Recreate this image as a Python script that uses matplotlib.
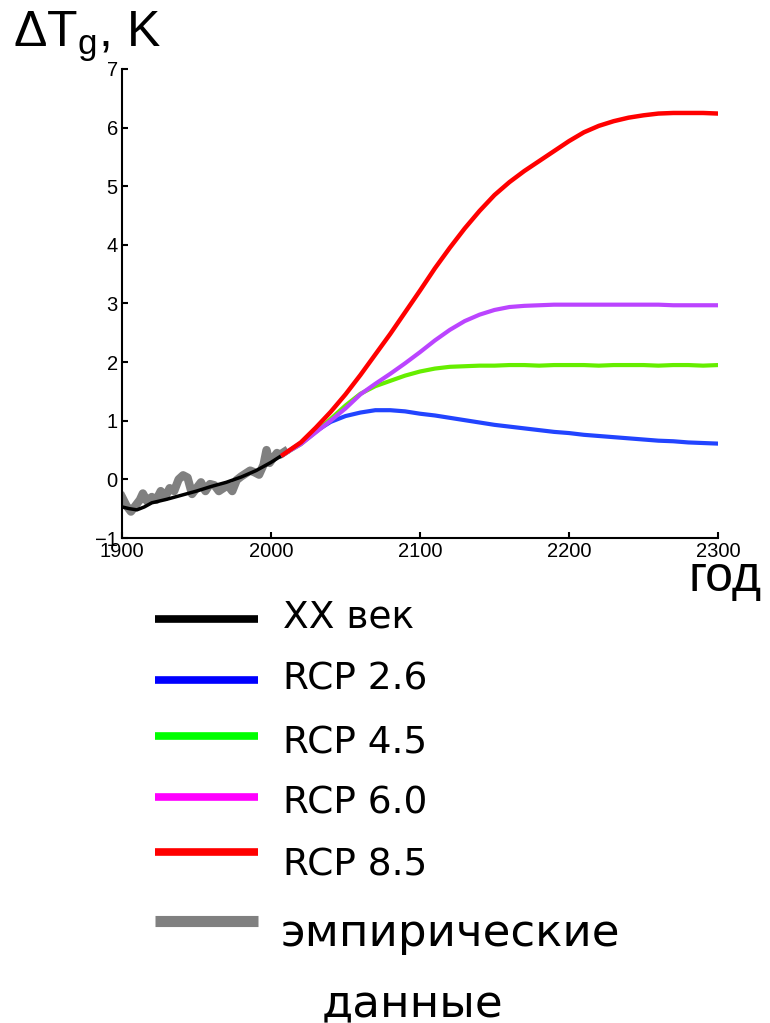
import matplotlib
matplotlib.use("Agg")
import matplotlib.pyplot as plt
from matplotlib.lines import Line2D

# 20th century model run and empirical data
years_hist = [1900, 1905, 1910, 1915, 1920, 1930, 1940, 1950, 1960, 1970, 1980, 1990, 2000, 2008]
t_hist = [-0.47, -0.5, -0.52, -0.47, -0.4, -0.34, -0.27, -0.2, -0.12, -0.05, 0.04, 0.15, 0.29, 0.42]

years_emp = [1900, 1903, 1906, 1909, 1912, 1914, 1917, 1920, 1923, 1926, 1929, 1932, 1935, 1938,
             1941, 1944, 1947, 1950, 1953, 1956, 1959, 1962, 1965, 1968, 1971, 1974, 1977, 1980,
             1983, 1986, 1989, 1992, 1995, 1997, 1999, 2001, 2004, 2006, 2009]
t_emp = [-0.3, -0.45, -0.55, -0.45, -0.35, -0.24, -0.38, -0.3, -0.35, -0.2, -0.3, -0.15, -0.2, 0.0,
         0.07, 0.03, -0.25, -0.15, -0.05, -0.2, -0.08, -0.1, -0.2, -0.15, -0.1, -0.2, -0.01, 0.05,
         0.1, 0.15, 0.12, 0.08, 0.25, 0.5, 0.28, 0.35, 0.45, 0.42, 0.47]

# scenarios
years_rcp = [2008, 2020, 2030, 2040, 2050, 2060, 2070, 2080, 2090, 2100, 2110, 2120, 2130, 2140, 2150,
             2160, 2170, 2180, 2190, 2200, 2210, 2220, 2230, 2240, 2250, 2260, 2270, 2280, 2290, 2300]
rcp26 = [0.42, 0.62, 0.82, 0.98, 1.08, 1.14, 1.18, 1.18, 1.16, 1.12, 1.09, 1.05, 1.01, 0.97, 0.93,
         0.9, 0.87, 0.84, 0.81, 0.79, 0.76, 0.74, 0.72, 0.7, 0.68, 0.66, 0.65, 0.63, 0.62, 0.61]
rcp45 = [0.42, 0.6, 0.81, 1.03, 1.26, 1.46, 1.59, 1.68, 1.77, 1.84, 1.89, 1.92, 1.93, 1.94, 1.94,
         1.95, 1.95, 1.94, 1.95, 1.95, 1.95, 1.94, 1.95, 1.95, 1.95, 1.94, 1.95, 1.95, 1.94, 1.95]
rcp60 = [0.42, 0.6, 0.8, 1.0, 1.21, 1.45, 1.63, 1.8, 1.98, 2.17, 2.37, 2.55, 2.7, 2.81, 2.89,
         2.94, 2.96, 2.97, 2.98, 2.98, 2.98, 2.98, 2.98, 2.98, 2.98, 2.98, 2.97, 2.97, 2.97, 2.97]
rcp85 = [0.42, 0.63, 0.88, 1.15, 1.45, 1.78, 2.13, 2.48, 2.85, 3.22, 3.6, 3.95, 4.28, 4.58, 4.85,
         5.07, 5.26, 5.43, 5.6, 5.77, 5.92, 6.03, 6.11, 6.17, 6.21, 6.24, 6.25, 6.25, 6.25, 6.24]

labels = ["XX век", "RCP 2.6", "RCP 4.5", "RCP 6.0", "RCP 8.5"]
legend_colors = ["black", "#0000ff", "#00ff00", "#ff00ff", "#ff0000"]

plt.rcParams["mathtext.fontset"] = "custom"
plt.rcParams["mathtext.rm"] = "Liberation Sans"
plt.rcParams["mathtext.it"] = "Liberation Sans"

W, H = 770, 1023
fig = plt.figure(figsize=(W / 100, H / 100), dpi=100)
ax = fig.add_axes([122 / W, 1 - 538 / H, (718 - 122) / W, (538 - 69) / H])

ax.plot(years_emp, t_emp, color="#808080", lw=6, solid_joinstyle="round")
ax.plot(years_hist, t_hist, color="black", lw=2.5)
ax.plot(years_rcp, rcp26, color="#2244ff", lw=3)
ax.plot(years_rcp, rcp45, color="#66ee00", lw=3)
ax.plot(years_rcp, rcp60, color="#bb44ff", lw=3)
ax.plot(years_rcp, rcp85, color="#ff0000", lw=3.2)

ax.set_xlim(1900, 2300)
ax.set_ylim(-1, 7)
ax.set_xticks([1900, 2000, 2100, 2200, 2300])
ax.set_yticks(range(-1, 8))
for s in ["top", "right"]:
    ax.spines[s].set_visible(False)
ax.spines["left"].set_linewidth(1.5)
ax.spines["bottom"].set_linewidth(1.5)
ax.tick_params(direction="in", length=4, width=1.5, labelsize=14.5, pad=3)
for lab in ax.get_xticklabels() + ax.get_yticklabels():
    lab.set_family("Liberation Sans")

fig.text(13 / W, 1 - 47 / H, r"$\Delta\mathrm{T}_\mathrm{g}$, K", fontsize=36,
         family="Liberation Sans", va="baseline")
fig.text(688 / W, 1 - 591 / H, "год", fontsize=36, family="Liberation Sans", va="baseline")

# hand-placed legend
line_y = [619, 680, 736, 797, 852]
text_y = [628, 690, 753, 813, 875]
for ly, ty, lab, c in zip(line_y, text_y, labels, legend_colors):
    fig.add_artist(Line2D([155 / W, 258 / W], [1 - ly / H, 1 - ly / H], color=c, lw=5.5,
                          solid_capstyle="butt"))
    fig.text(283 / W, 1 - ty / H, lab, fontsize=27, family="DejaVu Sans", va="baseline")
fig.add_artist(Line2D([155 / W, 258 / W], [1 - 921 / H, 1 - 921 / H], color="#808080", lw=8,
                      solid_capstyle="butt"))
fig.text(450 / W, 1 - 946 / H, "эмпирические", fontsize=32.5, family="DejaVu Sans",
         va="baseline", ha="center")
fig.text(412 / W, 1 - 1016 / H, "данные", fontsize=32.5, family="DejaVu Sans",
         va="baseline", ha="center")

fig.savefig("out.png", dpi=100)
